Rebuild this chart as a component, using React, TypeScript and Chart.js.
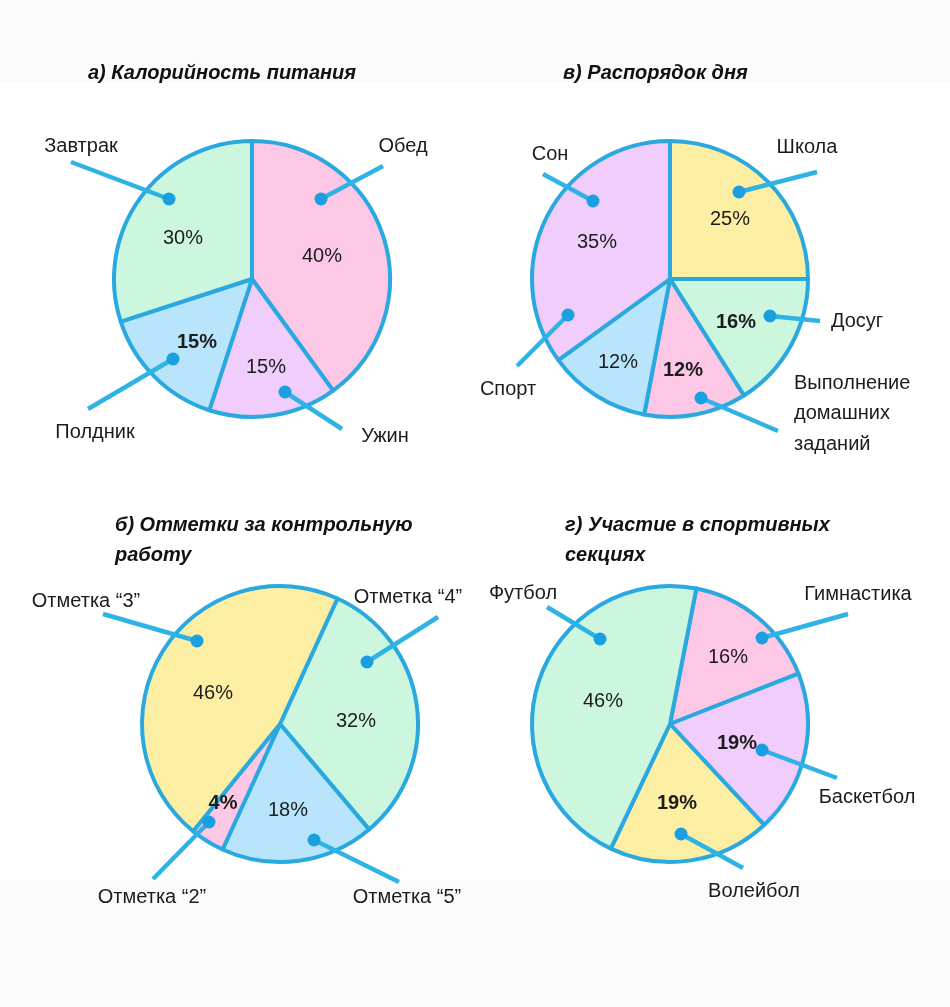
import React, { useEffect, useRef } from "react";
import { Chart, registerables } from "chart.js";

Chart.register(...registerables);

// ---------- data ----------
const caloriesTitle = ["а) Калорийность питания"];
const caloriesLabels = ["Обед", "Ужин", "Полдник", "Завтрак"];
const caloriesValues = [40, 15, 15, 30];

const scheduleTitle = ["в) Распорядок дня"];
const scheduleLabels = ["Школа", "Досуг", "Выполнение домашних заданий", "Спорт", "Сон"];
const scheduleValues = [25, 16, 12, 12, 35];

const marksTitle = ["б) Отметки за контрольную", "работу"];
const marksLabels = ["Отметка “4”", "Отметка “5”", "Отметка “2”", "Отметка “3”"];
const marksValues = [32, 18, 4, 46];

const sportsTitle = ["г) Участие в спортивных", "секциях"];
const sportsLabels = ["Гимнастика", "Баскетбол", "Волейбол", "Футбол"];
const sportsValues = [16, 19, 19, 46];

// ---------- styles ----------
const PINK = "#fdc8e6";
const MINT = "#cdf6df";
const BLUE = "#b8e5fb";
const LILAC = "#f0cdfb";
const YELLOW = "#fcefa4";
const BORDER = "#2aa8e0";
const LEADER = "#2fb3e6";
const DOT = "#1a9fe0";
const TEXT = "#1c1c1c";
const FONT = "'Liberation Sans', Arial, sans-serif";

const PAGE_W = 950;
const PAGE_H = 1007;
const RADIUS = 138;

type Anno = {
  pct: [number, number];
  dot: [number, number];
  end: [number, number];
  lab: [number, number];
  bold?: boolean;
  lines?: string[];
  align?: "left" | "center";
};

type PieSpec = {
  title: string[];
  titlePos: [number, number];
  labels: string[];
  values: number[];
  colors: string[];
  rotation: number;
  center: [number, number];
  annos: Anno[];
};

const pies: PieSpec[] = [
  {
    title: caloriesTitle,
    titlePos: [88, 73],
    labels: caloriesLabels,
    values: caloriesValues,
    colors: [PINK, LILAC, BLUE, MINT],
    rotation: 0,
    center: [252, 279],
    annos: [
      { pct: [70, -23], dot: [69, -80], end: [131, -113], lab: [151, -133] },
      { pct: [14, 88], dot: [33, 113], end: [90, 150], lab: [133, 157] },
      { pct: [-55, 63], dot: [-79, 80], end: [-164, 130], lab: [-157, 153], bold: true },
      { pct: [-69, -41], dot: [-83, -80], end: [-181, -117], lab: [-171, -133] },
    ],
  },
  {
    title: scheduleTitle,
    titlePos: [563, 73],
    labels: scheduleLabels,
    values: scheduleValues,
    colors: [YELLOW, MINT, PINK, BLUE, LILAC],
    rotation: 0,
    center: [670, 279],
    annos: [
      { pct: [60, -60], dot: [69, -87], end: [147, -107], lab: [137, -132] },
      { pct: [66, 43], dot: [100, 37], end: [150, 42], lab: [187, 42], bold: true },
      {
        pct: [13, 91], dot: [31, 119], end: [108, 152], lab: [124, 104], bold: true,
        lines: ["Выполнение", "домашних", "заданий"], align: "left",
      },
      { pct: [-52, 83], dot: [-102, 36], end: [-153, 87], lab: [-162, 110] },
      { pct: [-73, -37], dot: [-77, -78], end: [-127, -105], lab: [-120, -125] },
    ],
  },
  {
    title: marksTitle,
    titlePos: [115, 525],
    labels: marksLabels,
    values: marksValues,
    colors: [MINT, BLUE, PINK, YELLOW],
    rotation: 24.6,
    center: [280, 724],
    annos: [
      { pct: [76, -3], dot: [87, -62], end: [158, -107], lab: [128, -127] },
      { pct: [8, 86], dot: [34, 116], end: [119, 158], lab: [127, 173] },
      { pct: [-57, 79], dot: [-71, 98], end: [-127, 155], lab: [-128, 173], bold: true },
      { pct: [-67, -31], dot: [-83, -83], end: [-177, -110], lab: [-194, -123] },
    ],
  },
  {
    title: sportsTitle,
    titlePos: [565, 525],
    labels: sportsLabels,
    values: sportsValues,
    colors: [PINK, LILAC, YELLOW, MINT],
    rotation: 11,
    center: [670, 724],
    annos: [
      { pct: [58, -67], dot: [92, -86], end: [178, -110], lab: [188, -130] },
      { pct: [67, 19], dot: [92, 26], end: [167, 54], lab: [197, 73], bold: true },
      { pct: [7, 79], dot: [11, 110], end: [73, 144], lab: [84, 167], bold: true },
      { pct: [-67, -23], dot: [-70, -85], end: [-123, -117], lab: [-147, -131] },
    ],
  },
];

function PieChart({ spec }: { spec: PieSpec }) {
  const ref = useRef<HTMLCanvasElement | null>(null);

  useEffect(() => {
    if (!ref.current) return;
    const [cx, cy] = spec.center;
    const R = 150;

    const annoPlugin = {
      id: "annos",
      afterDraw(chart: any) {
        const ctx = chart.ctx as CanvasRenderingContext2D;
        const arc = chart.getDatasetMeta(0).data[0] as any;
        const ox = arc.x;
        const oy = arc.y;
        ctx.save();
        // leader lines + dots
        spec.annos.forEach((a) => {
          ctx.strokeStyle = LEADER;
          ctx.lineWidth = 4.5;
          ctx.lineCap = "butt";
          ctx.beginPath();
          ctx.moveTo(ox + a.dot[0], oy + a.dot[1]);
          ctx.lineTo(ox + a.end[0], oy + a.end[1]);
          ctx.stroke();
          ctx.fillStyle = DOT;
          ctx.beginPath();
          ctx.arc(ox + a.dot[0], oy + a.dot[1], 6.5, 0, Math.PI * 2);
          ctx.fill();
        });
        // percent texts and labels
        spec.annos.forEach((a, i) => {
          ctx.fillStyle = TEXT;
          ctx.textBaseline = "middle";
          ctx.textAlign = "center";
          ctx.font = `${a.bold ? "bold " : ""}20px ${FONT}`;
          ctx.fillText(`${spec.values[i]}%`, ox + a.pct[0], oy + a.pct[1]);
          ctx.font = `20px ${FONT}`;
          const lines = a.lines ?? [spec.labels[i]];
          ctx.textAlign = a.align ?? "center";
          lines.forEach((ln, k) => {
            ctx.fillText(ln, ox + a.lab[0], oy + a.lab[1] + k * 30.5);
          });
        });
        // title
        ctx.fillStyle = "#111";
        ctx.textAlign = "left";
        ctx.textBaseline = "middle";
        ctx.font = `italic bold 20px ${FONT}`;
        spec.title.forEach((t, k) => {
          ctx.fillText(t, spec.titlePos[0], spec.titlePos[1] + k * 30);
        });
        ctx.restore();
      },
    };

    const chart = new Chart(ref.current, {
      type: "pie",
      data: {
        labels: spec.labels,
        datasets: [
          {
            data: spec.values,
            backgroundColor: spec.colors,
            borderColor: BORDER,
            borderWidth: 4,
            borderJoinStyle: "round",
          } as any,
        ],
      },
      options: {
        animation: false,
        responsive: false,
        maintainAspectRatio: false,
        rotation: spec.rotation,
        radius: RADIUS,
        layout: {
          padding: {
            left: cx - R,
            top: cy - R,
            right: PAGE_W - cx - R,
            bottom: PAGE_H - cy - R,
          },
        },
        plugins: {
          legend: { display: false },
          tooltip: { enabled: false },
          title: { display: false },
        },
        events: [],
      } as any,
      plugins: [annoPlugin],
    });
    return () => chart.destroy();
  }, [spec]);

  return (
    <canvas
      ref={ref}
      width={PAGE_W}
      height={PAGE_H}
      style={{ position: "absolute", left: 0, top: 0, width: PAGE_W, height: PAGE_H }}
    />
  );
}

export default function App() {
  useEffect(() => {
    document.body.style.margin = "0";
    document.body.style.background = "#ffffff";
  }, []);
  return (
    <div style={{ position: "relative", width: PAGE_W, height: PAGE_H, background: "#ffffff", overflow: "hidden" }}>
      <div style={{ position: "absolute", left: 0, top: 0, width: PAGE_W, height: 82, background: "#fbfbfb" }} />
      <div style={{ position: "absolute", left: 0, top: 880, width: PAGE_W, height: PAGE_H - 880, background: "#fbfbfb" }} />
      {pies.map((p, i) => (
        <PieChart key={i} spec={p} />
      ))}
    </div>
  );
}
